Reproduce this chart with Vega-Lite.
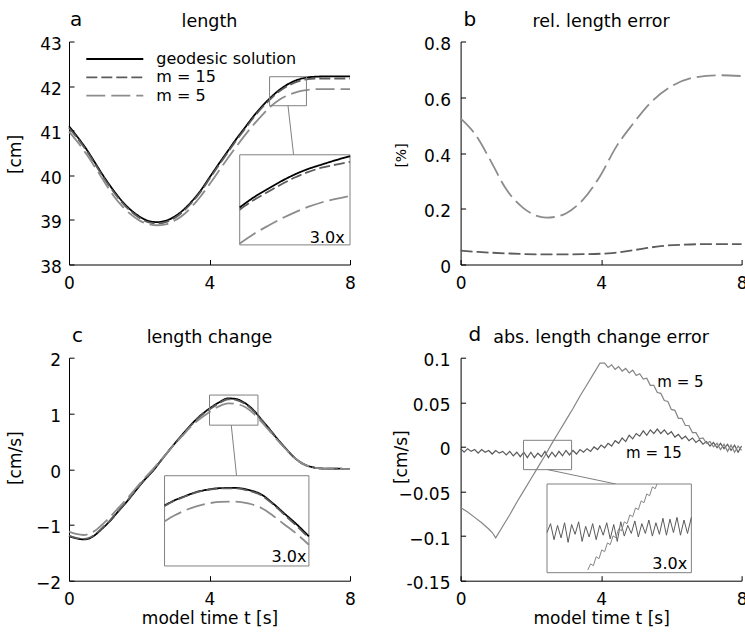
{
"$schema": "https://vega.github.io/schema/vega-lite/v6.json",
"background": "white",
"padding": {"left": 6, "top": 9.5, "right": 0, "bottom": 0},
"columns": 2,
"spacing": {"row": 93.2, "column": 110.6},
"bounds": "flush",
"resolve": {"scale": {"color": "independent", "strokeDash": "independent"}},
"datasets": {
"a_main": [
{"t":0,"v":41.1,"s":"geodesic solution"},{"t":0.25,"v":40.85,"s":"geodesic solution"},{"t":0.5,"v":40.58,"s":"geodesic solution"},{"t":0.75,"v":40.27,"s":"geodesic solution"},{"t":1,"v":39.96,"s":"geodesic solution"},{"t":1.25,"v":39.68,"s":"geodesic solution"},{"t":1.5,"v":39.43,"s":"geodesic solution"},{"t":1.75,"v":39.23,"s":"geodesic solution"},{"t":2,"v":39.08,"s":"geodesic solution"},{"t":2.25,"v":38.98,"s":"geodesic solution"},{"t":2.5,"v":38.95,"s":"geodesic solution"},{"t":2.75,"v":38.98,"s":"geodesic solution"},{"t":3,"v":39.07,"s":"geodesic solution"},{"t":3.25,"v":39.22,"s":"geodesic solution"},{"t":3.5,"v":39.42,"s":"geodesic solution"},{"t":3.75,"v":39.66,"s":"geodesic solution"},{"t":4,"v":39.95,"s":"geodesic solution"},{"t":4.25,"v":40.24,"s":"geodesic solution"},{"t":4.5,"v":40.52,"s":"geodesic solution"},{"t":4.75,"v":40.8,"s":"geodesic solution"},{"t":5,"v":41.06,"s":"geodesic solution"},{"t":5.25,"v":41.32,"s":"geodesic solution"},{"t":5.5,"v":41.55,"s":"geodesic solution"},{"t":5.75,"v":41.75,"s":"geodesic solution"},{"t":6,"v":41.92,"s":"geodesic solution"},{"t":6.25,"v":42.05,"s":"geodesic solution"},{"t":6.5,"v":42.14,"s":"geodesic solution"},{"t":6.75,"v":42.19,"s":"geodesic solution"},{"t":7,"v":42.21,"s":"geodesic solution"},{"t":7.5,"v":42.22,"s":"geodesic solution"},{"t":8,"v":42.22,"s":"geodesic solution"},
{"t":0,"v":41.06,"s":"m = 15"},{"t":0.25,"v":40.82,"s":"m = 15"},{"t":0.5,"v":40.55,"s":"m = 15"},{"t":0.75,"v":40.24,"s":"m = 15"},{"t":1,"v":39.93,"s":"m = 15"},{"t":1.25,"v":39.65,"s":"m = 15"},{"t":1.5,"v":39.4,"s":"m = 15"},{"t":1.75,"v":39.2,"s":"m = 15"},{"t":2,"v":39.05,"s":"m = 15"},{"t":2.25,"v":38.95,"s":"m = 15"},{"t":2.5,"v":38.92,"s":"m = 15"},{"t":2.75,"v":38.95,"s":"m = 15"},{"t":3,"v":39.04,"s":"m = 15"},{"t":3.25,"v":39.19,"s":"m = 15"},{"t":3.5,"v":39.39,"s":"m = 15"},{"t":3.75,"v":39.63,"s":"m = 15"},{"t":4,"v":39.92,"s":"m = 15"},{"t":4.25,"v":40.21,"s":"m = 15"},{"t":4.5,"v":40.49,"s":"m = 15"},{"t":4.75,"v":40.77,"s":"m = 15"},{"t":5,"v":41.03,"s":"m = 15"},{"t":5.25,"v":41.29,"s":"m = 15"},{"t":5.5,"v":41.52,"s":"m = 15"},{"t":5.75,"v":41.72,"s":"m = 15"},{"t":6,"v":41.89,"s":"m = 15"},{"t":6.25,"v":42.01,"s":"m = 15"},{"t":6.5,"v":42.1,"s":"m = 15"},{"t":6.75,"v":42.15,"s":"m = 15"},{"t":7,"v":42.17,"s":"m = 15"},{"t":7.5,"v":42.17,"s":"m = 15"},{"t":8,"v":42.17,"s":"m = 15"},
{"t":0,"v":40.98,"s":"m = 5"},{"t":0.25,"v":40.74,"s":"m = 5"},{"t":0.5,"v":40.47,"s":"m = 5"},{"t":0.75,"v":40.17,"s":"m = 5"},{"t":1,"v":39.86,"s":"m = 5"},{"t":1.25,"v":39.56,"s":"m = 5"},{"t":1.5,"v":39.32,"s":"m = 5"},{"t":1.75,"v":39.13,"s":"m = 5"},{"t":2,"v":38.99,"s":"m = 5"},{"t":2.25,"v":38.91,"s":"m = 5"},{"t":2.5,"v":38.88,"s":"m = 5"},{"t":2.75,"v":38.9,"s":"m = 5"},{"t":3,"v":38.98,"s":"m = 5"},{"t":3.25,"v":39.11,"s":"m = 5"},{"t":3.5,"v":39.3,"s":"m = 5"},{"t":3.75,"v":39.53,"s":"m = 5"},{"t":4,"v":39.8,"s":"m = 5"},{"t":4.25,"v":40.08,"s":"m = 5"},{"t":4.5,"v":40.36,"s":"m = 5"},{"t":4.75,"v":40.63,"s":"m = 5"},{"t":5,"v":40.89,"s":"m = 5"},{"t":5.25,"v":41.13,"s":"m = 5"},{"t":5.5,"v":41.35,"s":"m = 5"},{"t":5.75,"v":41.55,"s":"m = 5"},{"t":6,"v":41.7,"s":"m = 5"},{"t":6.25,"v":41.8,"s":"m = 5"},{"t":6.5,"v":41.87,"s":"m = 5"},{"t":6.75,"v":41.91,"s":"m = 5"},{"t":7,"v":41.93,"s":"m = 5"},{"t":7.5,"v":41.93,"s":"m = 5"},{"t":8,"v":41.93,"s":"m = 5"}
],
"a_inset": [
{"t":4.86,"v":39.28,"s":"geodesic solution"},{"t":5.25,"v":39.5,"s":"geodesic solution"},{"t":5.67,"v":39.7,"s":"geodesic solution"},{"t":6.05,"v":39.87,"s":"geodesic solution"},{"t":6.43,"v":40.02,"s":"geodesic solution"},{"t":6.8,"v":40.14,"s":"geodesic solution"},{"t":7.19,"v":40.24,"s":"geodesic solution"},{"t":7.6,"v":40.34,"s":"geodesic solution"},{"t":8,"v":40.43,"s":"geodesic solution"},
{"t":4.86,"v":39.23,"s":"m = 15"},{"t":5.25,"v":39.44,"s":"m = 15"},{"t":5.67,"v":39.63,"s":"m = 15"},{"t":6.05,"v":39.8,"s":"m = 15"},{"t":6.43,"v":39.95,"s":"m = 15"},{"t":6.8,"v":40.07,"s":"m = 15"},{"t":7.19,"v":40.17,"s":"m = 15"},{"t":7.6,"v":40.24,"s":"m = 15"},{"t":8,"v":40.3,"s":"m = 15"},
{"t":4.86,"v":38.47,"s":"m = 5"},{"t":5.25,"v":38.68,"s":"m = 5"},{"t":5.67,"v":38.87,"s":"m = 5"},{"t":6.05,"v":39.03,"s":"m = 5"},{"t":6.43,"v":39.17,"s":"m = 5"},{"t":6.8,"v":39.29,"s":"m = 5"},{"t":7.19,"v":39.39,"s":"m = 5"},{"t":7.6,"v":39.47,"s":"m = 5"},{"t":8,"v":39.54,"s":"m = 5"}
],
"b_main": [
{"t":0,"v":0.524,"s":"m = 5"},{"t":0.455,"v":0.46,"s":"m = 5"},{"t":0.833,"v":0.377,"s":"m = 5"},{"t":1.31,"v":0.268,"s":"m = 5"},{"t":1.78,"v":0.203,"s":"m = 5"},{"t":2.1,"v":0.178,"s":"m = 5"},{"t":2.44,"v":0.168,"s":"m = 5"},{"t":2.75,"v":0.172,"s":"m = 5"},{"t":3.01,"v":0.184,"s":"m = 5"},{"t":3.48,"v":0.232,"s":"m = 5"},{"t":3.96,"v":0.315,"s":"m = 5"},{"t":4.43,"v":0.422,"s":"m = 5"},{"t":4.91,"v":0.505,"s":"m = 5"},{"t":5.38,"v":0.577,"s":"m = 5"},{"t":6.04,"v":0.642,"s":"m = 5"},{"t":6.7,"v":0.672,"s":"m = 5"},{"t":7.37,"v":0.679,"s":"m = 5"},{"t":8,"v":0.676,"s":"m = 5"},
{"t":0,"v":0.05,"s":"m = 15"},{"t":0.5,"v":0.045,"s":"m = 15"},{"t":1.3,"v":0.04,"s":"m = 15"},{"t":2.4,"v":0.036,"s":"m = 15"},{"t":3.5,"v":0.037,"s":"m = 15"},{"t":4.2,"v":0.04,"s":"m = 15"},{"t":4.7,"v":0.047,"s":"m = 15"},{"t":5.2,"v":0.057,"s":"m = 15"},{"t":5.7,"v":0.066,"s":"m = 15"},{"t":6.3,"v":0.071,"s":"m = 15"},{"t":7,"v":0.073,"s":"m = 15"},{"t":8,"v":0.073,"s":"m = 15"}
],
"c_main": [
{"t":0,"v":-1.2,"s":"geodesic solution"},{"t":0.2,"v":-1.24,"s":"geodesic solution"},{"t":0.44,"v":-1.26,"s":"geodesic solution"},{"t":0.7,"v":-1.2,"s":"geodesic solution"},{"t":0.92,"v":-1.08,"s":"geodesic solution"},{"t":1.15,"v":-0.94,"s":"geodesic solution"},{"t":1.4,"v":-0.76,"s":"geodesic solution"},{"t":1.65,"v":-0.58,"s":"geodesic solution"},{"t":1.88,"v":-0.4,"s":"geodesic solution"},{"t":2.14,"v":-0.2,"s":"geodesic solution"},{"t":2.39,"v":-0.03,"s":"geodesic solution"},{"t":2.65,"v":0.18,"s":"geodesic solution"},{"t":2.91,"v":0.385,"s":"geodesic solution"},{"t":3.2,"v":0.6,"s":"geodesic solution"},{"t":3.48,"v":0.8,"s":"geodesic solution"},{"t":3.72,"v":0.95,"s":"geodesic solution"},{"t":3.96,"v":1.07,"s":"geodesic solution"},{"t":4.25,"v":1.19,"s":"geodesic solution"},{"t":4.53,"v":1.27,"s":"geodesic solution"},{"t":4.75,"v":1.26,"s":"geodesic solution"},{"t":5,"v":1.19,"s":"geodesic solution"},{"t":5.25,"v":1.06,"s":"geodesic solution"},{"t":5.48,"v":0.89,"s":"geodesic solution"},{"t":5.72,"v":0.71,"s":"geodesic solution"},{"t":5.95,"v":0.53,"s":"geodesic solution"},{"t":6.2,"v":0.35,"s":"geodesic solution"},{"t":6.43,"v":0.2,"s":"geodesic solution"},{"t":6.65,"v":0.1,"s":"geodesic solution"},{"t":6.9,"v":0.04,"s":"geodesic solution"},{"t":7.15,"v":0.015,"s":"geodesic solution"},{"t":7.38,"v":0.01,"s":"geodesic solution"},{"t":7.65,"v":0.012,"s":"geodesic solution"},{"t":7.95,"v":0,"s":"geodesic solution"},{"t":8,"v":0,"s":"geodesic solution"},
{"t":0,"v":-1.19,"s":"m = 15"},{"t":0.2,"v":-1.23,"s":"m = 15"},{"t":0.44,"v":-1.25,"s":"m = 15"},{"t":0.7,"v":-1.19,"s":"m = 15"},{"t":0.92,"v":-1.07,"s":"m = 15"},{"t":1.15,"v":-0.93,"s":"m = 15"},{"t":1.4,"v":-0.75,"s":"m = 15"},{"t":1.65,"v":-0.57,"s":"m = 15"},{"t":1.88,"v":-0.39,"s":"m = 15"},{"t":2.14,"v":-0.19,"s":"m = 15"},{"t":2.39,"v":-0.02,"s":"m = 15"},{"t":2.65,"v":0.18,"s":"m = 15"},{"t":2.91,"v":0.38,"s":"m = 15"},{"t":3.2,"v":0.59,"s":"m = 15"},{"t":3.48,"v":0.79,"s":"m = 15"},{"t":3.72,"v":0.94,"s":"m = 15"},{"t":3.96,"v":1.055,"s":"m = 15"},{"t":4.25,"v":1.175,"s":"m = 15"},{"t":4.53,"v":1.255,"s":"m = 15"},{"t":4.75,"v":1.245,"s":"m = 15"},{"t":5,"v":1.175,"s":"m = 15"},{"t":5.25,"v":1.045,"s":"m = 15"},{"t":5.48,"v":0.875,"s":"m = 15"},{"t":5.72,"v":0.7,"s":"m = 15"},{"t":5.95,"v":0.52,"s":"m = 15"},{"t":6.2,"v":0.345,"s":"m = 15"},{"t":6.43,"v":0.2,"s":"m = 15"},{"t":6.65,"v":0.1,"s":"m = 15"},{"t":6.9,"v":0.04,"s":"m = 15"},{"t":7.15,"v":0.015,"s":"m = 15"},{"t":7.38,"v":0.01,"s":"m = 15"},{"t":7.65,"v":0.012,"s":"m = 15"},{"t":7.95,"v":0,"s":"m = 15"},{"t":8,"v":0,"s":"m = 15"},
{"t":0,"v":-1.12,"s":"m = 5"},{"t":0.2,"v":-1.16,"s":"m = 5"},{"t":0.42,"v":-1.18,"s":"m = 5"},{"t":0.7,"v":-1.12,"s":"m = 5"},{"t":0.92,"v":-1.01,"s":"m = 5"},{"t":1.15,"v":-0.87,"s":"m = 5"},{"t":1.4,"v":-0.7,"s":"m = 5"},{"t":1.65,"v":-0.53,"s":"m = 5"},{"t":1.88,"v":-0.36,"s":"m = 5"},{"t":2.14,"v":-0.17,"s":"m = 5"},{"t":2.39,"v":0,"s":"m = 5"},{"t":2.65,"v":0.19,"s":"m = 5"},{"t":2.91,"v":0.38,"s":"m = 5"},{"t":3.2,"v":0.58,"s":"m = 5"},{"t":3.48,"v":0.77,"s":"m = 5"},{"t":3.72,"v":0.9,"s":"m = 5"},{"t":3.96,"v":1.01,"s":"m = 5"},{"t":4.25,"v":1.12,"s":"m = 5"},{"t":4.53,"v":1.18,"s":"m = 5"},{"t":4.75,"v":1.17,"s":"m = 5"},{"t":5,"v":1.12,"s":"m = 5"},{"t":5.25,"v":1,"s":"m = 5"},{"t":5.48,"v":0.85,"s":"m = 5"},{"t":5.72,"v":0.68,"s":"m = 5"},{"t":5.95,"v":0.51,"s":"m = 5"},{"t":6.2,"v":0.34,"s":"m = 5"},{"t":6.43,"v":0.2,"s":"m = 5"},{"t":6.65,"v":0.1,"s":"m = 5"},{"t":6.9,"v":0.04,"s":"m = 5"},{"t":7.15,"v":0.015,"s":"m = 5"},{"t":7.38,"v":0.01,"s":"m = 5"},{"t":7.65,"v":0.012,"s":"m = 5"},{"t":7.95,"v":0,"s":"m = 5"},{"t":8,"v":0,"s":"m = 5"}
],
"c_inset": [
{"t":2.72,"v":-0.653,"s":"geodesic solution"},{"t":3,"v":-0.56,"s":"geodesic solution"},{"t":3.3,"v":-0.485,"s":"geodesic solution"},{"t":3.6,"v":-0.415,"s":"geodesic solution"},{"t":3.96,"v":-0.365,"s":"geodesic solution"},{"t":4.3,"v":-0.34,"s":"geodesic solution"},{"t":4.72,"v":-0.335,"s":"geodesic solution"},{"t":5.1,"v":-0.37,"s":"geodesic solution"},{"t":5.48,"v":-0.455,"s":"geodesic solution"},{"t":5.8,"v":-0.61,"s":"geodesic solution"},{"t":6.14,"v":-0.8,"s":"geodesic solution"},{"t":6.5,"v":-1,"s":"geodesic solution"},{"t":6.83,"v":-1.205,"s":"geodesic solution"},
{"t":2.72,"v":-0.66,"s":"m = 15"},{"t":3,"v":-0.565,"s":"m = 15"},{"t":3.3,"v":-0.49,"s":"m = 15"},{"t":3.6,"v":-0.42,"s":"m = 15"},{"t":3.96,"v":-0.37,"s":"m = 15"},{"t":4.3,"v":-0.345,"s":"m = 15"},{"t":4.72,"v":-0.345,"s":"m = 15"},{"t":5.1,"v":-0.385,"s":"m = 15"},{"t":5.48,"v":-0.47,"s":"m = 15"},{"t":5.8,"v":-0.625,"s":"m = 15"},{"t":6.14,"v":-0.82,"s":"m = 15"},{"t":6.5,"v":-1.03,"s":"m = 15"},{"t":6.83,"v":-1.23,"s":"m = 15"},
{"t":2.72,"v":-0.935,"s":"m = 5"},{"t":3,"v":-0.83,"s":"m = 5"},{"t":3.3,"v":-0.74,"s":"m = 5"},{"t":3.6,"v":-0.67,"s":"m = 5"},{"t":3.96,"v":-0.615,"s":"m = 5"},{"t":4.3,"v":-0.585,"s":"m = 5"},{"t":4.72,"v":-0.58,"s":"m = 5"},{"t":5.1,"v":-0.615,"s":"m = 5"},{"t":5.48,"v":-0.695,"s":"m = 5"},{"t":5.8,"v":-0.83,"s":"m = 5"},{"t":6.14,"v":-0.995,"s":"m = 5"},{"t":6.5,"v":-1.17,"s":"m = 5"},{"t":6.83,"v":-1.355,"s":"m = 5"}
],
"d_main": [
{"t":0,"v":-0.002,"s":"m = 15"},{"t":0.1,"v":-0.006,"s":"m = 15"},{"t":0.2,"v":-0.002,"s":"m = 15"},{"t":0.3,"v":-0.005,"s":"m = 15"},{"t":0.4,"v":-0.003,"s":"m = 15"},{"t":0.5,"v":-0.007,"s":"m = 15"},{"t":0.6,"v":-0.003,"s":"m = 15"},{"t":0.7,"v":-0.006,"s":"m = 15"},{"t":0.8,"v":-0.004,"s":"m = 15"},{"t":0.9,"v":-0.008,"s":"m = 15"},{"t":1,"v":-0.004,"s":"m = 15"},{"t":1.1,"v":-0.007,"s":"m = 15"},{"t":1.2,"v":-0.005,"s":"m = 15"},{"t":1.3,"v":-0.009,"s":"m = 15"},{"t":1.4,"v":-0.005,"s":"m = 15"},{"t":1.5,"v":-0.01,"s":"m = 15"},{"t":1.6,"v":-0.006,"s":"m = 15"},{"t":1.7,"v":-0.011,"s":"m = 15"},{"t":1.8,"v":-0.006,"s":"m = 15"},{"t":1.9,"v":-0.012,"s":"m = 15"},{"t":2,"v":-0.006,"s":"m = 15"},{"t":2.1,"v":-0.012,"s":"m = 15"},{"t":2.2,"v":-0.007,"s":"m = 15"},{"t":2.3,"v":-0.011,"s":"m = 15"},{"t":2.4,"v":-0.005,"s":"m = 15"},{"t":2.5,"v":-0.012,"s":"m = 15"},{"t":2.6,"v":-0.006,"s":"m = 15"},{"t":2.7,"v":-0.011,"s":"m = 15"},{"t":2.8,"v":-0.005,"s":"m = 15"},{"t":2.9,"v":-0.01,"s":"m = 15"},{"t":3,"v":-0.004,"s":"m = 15"},{"t":3.1,"v":-0.009,"s":"m = 15"},{"t":3.2,"v":-0.004,"s":"m = 15"},{"t":3.3,"v":-0.008,"s":"m = 15"},{"t":3.4,"v":-0.003,"s":"m = 15"},{"t":3.5,"v":-0.006,"s":"m = 15"},{"t":3.6,"v":-0.002,"s":"m = 15"},{"t":3.7,"v":-0.005,"s":"m = 15"},{"t":3.8,"v":0,"s":"m = 15"},{"t":3.9,"v":-0.003,"s":"m = 15"},{"t":4,"v":0.002,"s":"m = 15"},{"t":4.1,"v":-0.001,"s":"m = 15"},{"t":4.2,"v":0.004,"s":"m = 15"},{"t":4.3,"v":0.001,"s":"m = 15"},{"t":4.4,"v":0.007,"s":"m = 15"},{"t":4.5,"v":0.004,"s":"m = 15"},{"t":4.6,"v":0.01,"s":"m = 15"},{"t":4.7,"v":0.006,"s":"m = 15"},{"t":4.8,"v":0.013,"s":"m = 15"},{"t":4.9,"v":0.009,"s":"m = 15"},{"t":5,"v":0.015,"s":"m = 15"},{"t":5.1,"v":0.012,"s":"m = 15"},{"t":5.2,"v":0.018,"s":"m = 15"},{"t":5.3,"v":0.013,"s":"m = 15"},{"t":5.4,"v":0.019,"s":"m = 15"},{"t":5.5,"v":0.015,"s":"m = 15"},{"t":5.6,"v":0.02,"s":"m = 15"},{"t":5.7,"v":0.015,"s":"m = 15"},{"t":5.8,"v":0.019,"s":"m = 15"},{"t":5.9,"v":0.014,"s":"m = 15"},{"t":6,"v":0.017,"s":"m = 15"},{"t":6.1,"v":0.011,"s":"m = 15"},{"t":6.2,"v":0.014,"s":"m = 15"},{"t":6.3,"v":0.009,"s":"m = 15"},{"t":6.4,"v":0.012,"s":"m = 15"},{"t":6.5,"v":0.007,"s":"m = 15"},{"t":6.6,"v":0.01,"s":"m = 15"},{"t":6.7,"v":0.005,"s":"m = 15"},{"t":6.8,"v":0.008,"s":"m = 15"},{"t":6.9,"v":0.003,"s":"m = 15"},{"t":7,"v":0.006,"s":"m = 15"},{"t":7.1,"v":0.001,"s":"m = 15"},{"t":7.2,"v":0.005,"s":"m = 15"},{"t":7.3,"v":-0.001,"s":"m = 15"},{"t":7.4,"v":0.004,"s":"m = 15"},{"t":7.5,"v":-0.002,"s":"m = 15"},{"t":7.6,"v":0.003,"s":"m = 15"},{"t":7.7,"v":-0.004,"s":"m = 15"},{"t":7.8,"v":0.002,"s":"m = 15"},{"t":7.9,"v":-0.006,"s":"m = 15"},{"t":8,"v":0.001,"s":"m = 15"},
{"t":0,"v":-0.068,"s":"m = 5"},{"t":0.2,"v":-0.073,"s":"m = 5"},{"t":0.4,"v":-0.079,"s":"m = 5"},{"t":0.6,"v":-0.085,"s":"m = 5"},{"t":0.8,"v":-0.092,"s":"m = 5"},{"t":0.9,"v":-0.096,"s":"m = 5"},{"t":1,"v":-0.102,"s":"m = 5"},{"t":1.2,"v":-0.089,"s":"m = 5"},{"t":1.4,"v":-0.076,"s":"m = 5"},{"t":1.6,"v":-0.062,"s":"m = 5"},{"t":1.8,"v":-0.049,"s":"m = 5"},{"t":2,"v":-0.036,"s":"m = 5"},{"t":2.2,"v":-0.023,"s":"m = 5"},{"t":2.4,"v":-0.01,"s":"m = 5"},{"t":2.6,"v":0.004,"s":"m = 5"},{"t":2.8,"v":0.017,"s":"m = 5"},{"t":3,"v":0.03,"s":"m = 5"},{"t":3.2,"v":0.043,"s":"m = 5"},{"t":3.4,"v":0.057,"s":"m = 5"},{"t":3.6,"v":0.07,"s":"m = 5"},{"t":3.8,"v":0.083,"s":"m = 5"},{"t":3.97,"v":0.094,"s":"m = 5"},{"t":4.1,"v":0.094,"s":"m = 5"},{"t":4.2,"v":0.089,"s":"m = 5"},{"t":4.3,"v":0.092,"s":"m = 5"},{"t":4.4,"v":0.087,"s":"m = 5"},{"t":4.5,"v":0.09,"s":"m = 5"},{"t":4.6,"v":0.085,"s":"m = 5"},{"t":4.7,"v":0.088,"s":"m = 5"},{"t":4.8,"v":0.083,"s":"m = 5"},{"t":4.9,"v":0.086,"s":"m = 5"},{"t":5,"v":0.08,"s":"m = 5"},{"t":5.1,"v":0.082,"s":"m = 5"},{"t":5.2,"v":0.076,"s":"m = 5"},{"t":5.3,"v":0.077,"s":"m = 5"},{"t":5.4,"v":0.069,"s":"m = 5"},{"t":5.5,"v":0.069,"s":"m = 5"},{"t":5.6,"v":0.061,"s":"m = 5"},{"t":5.7,"v":0.06,"s":"m = 5"},{"t":5.8,"v":0.052,"s":"m = 5"},{"t":5.9,"v":0.051,"s":"m = 5"},{"t":6,"v":0.042,"s":"m = 5"},{"t":6.1,"v":0.041,"s":"m = 5"},{"t":6.2,"v":0.032,"s":"m = 5"},{"t":6.3,"v":0.032,"s":"m = 5"},{"t":6.4,"v":0.024,"s":"m = 5"},{"t":6.5,"v":0.024,"s":"m = 5"},{"t":6.6,"v":0.016,"s":"m = 5"},{"t":6.7,"v":0.016,"s":"m = 5"},{"t":6.8,"v":0.009,"s":"m = 5"},{"t":6.9,"v":0.01,"s":"m = 5"},{"t":7,"v":0.004,"s":"m = 5"},{"t":7.1,"v":0.006,"s":"m = 5"},{"t":7.2,"v":0,"s":"m = 5"},{"t":7.3,"v":0.004,"s":"m = 5"},{"t":7.4,"v":-0.003,"s":"m = 5"},{"t":7.5,"v":0.003,"s":"m = 5"},{"t":7.6,"v":-0.005,"s":"m = 5"},{"t":7.7,"v":0.002,"s":"m = 5"},{"t":7.8,"v":-0.006,"s":"m = 5"},{"t":7.9,"v":0.001,"s":"m = 5"},{"t":8,"v":-0.004,"s":"m = 5"}
],
"d_inset": [
{"t":2.46,"v":-0.096,"s":"m = 15"},{"t":2.56,"v":-0.086,"s":"m = 15"},{"t":2.66,"v":-0.104,"s":"m = 15"},{"t":2.76,"v":-0.088,"s":"m = 15"},{"t":2.86,"v":-0.102,"s":"m = 15"},{"t":2.96,"v":-0.085,"s":"m = 15"},{"t":3.06,"v":-0.107,"s":"m = 15"},{"t":3.16,"v":-0.087,"s":"m = 15"},{"t":3.26,"v":-0.098,"s":"m = 15"},{"t":3.36,"v":-0.084,"s":"m = 15"},{"t":3.46,"v":-0.106,"s":"m = 15"},{"t":3.56,"v":-0.089,"s":"m = 15"},{"t":3.66,"v":-0.101,"s":"m = 15"},{"t":3.76,"v":-0.086,"s":"m = 15"},{"t":3.86,"v":-0.104,"s":"m = 15"},{"t":3.96,"v":-0.088,"s":"m = 15"},{"t":4.06,"v":-0.099,"s":"m = 15"},{"t":4.16,"v":-0.085,"s":"m = 15"},{"t":4.26,"v":-0.103,"s":"m = 15"},{"t":4.36,"v":-0.087,"s":"m = 15"},{"t":4.46,"v":-0.106,"s":"m = 15"},{"t":4.56,"v":-0.084,"s":"m = 15"},{"t":4.66,"v":-0.1,"s":"m = 15"},{"t":4.76,"v":-0.088,"s":"m = 15"},{"t":4.86,"v":-0.097,"s":"m = 15"},{"t":4.96,"v":-0.083,"s":"m = 15"},{"t":5.06,"v":-0.101,"s":"m = 15"},{"t":5.16,"v":-0.086,"s":"m = 15"},{"t":5.26,"v":-0.097,"s":"m = 15"},{"t":5.36,"v":-0.082,"s":"m = 15"},{"t":5.46,"v":-0.1,"s":"m = 15"},{"t":5.56,"v":-0.085,"s":"m = 15"},{"t":5.66,"v":-0.098,"s":"m = 15"},{"t":5.76,"v":-0.08,"s":"m = 15"},{"t":5.86,"v":-0.099,"s":"m = 15"},{"t":5.96,"v":-0.081,"s":"m = 15"},{"t":6.06,"v":-0.096,"s":"m = 15"},{"t":6.16,"v":-0.079,"s":"m = 15"},{"t":6.26,"v":-0.099,"s":"m = 15"},{"t":6.36,"v":-0.082,"s":"m = 15"},{"t":6.46,"v":-0.097,"s":"m = 15"},{"t":6.57,"v":-0.079,"s":"m = 15"},
{"t":3.62,"v":-0.138,"s":"m = 5"},{"t":3.7,"v":-0.1311,"s":"m = 5"},{"t":3.78,"v":-0.1332,"s":"m = 5"},{"t":3.86,"v":-0.1232,"s":"m = 5"},{"t":3.94,"v":-0.1253,"s":"m = 5"},{"t":4.02,"v":-0.1154,"s":"m = 5"},{"t":4.1,"v":-0.1175,"s":"m = 5"},{"t":4.18,"v":-0.1076,"s":"m = 5"},{"t":4.26,"v":-0.1096,"s":"m = 5"},{"t":4.34,"v":-0.0997,"s":"m = 5"},{"t":4.42,"v":-0.1018,"s":"m = 5"},{"t":4.5,"v":-0.0919,"s":"m = 5"},{"t":4.58,"v":-0.094,"s":"m = 5"},{"t":4.66,"v":-0.084,"s":"m = 5"},{"t":4.74,"v":-0.0861,"s":"m = 5"},{"t":4.82,"v":-0.0762,"s":"m = 5"},{"t":4.9,"v":-0.0783,"s":"m = 5"},{"t":4.98,"v":-0.0684,"s":"m = 5"},{"t":5.06,"v":-0.0704,"s":"m = 5"},{"t":5.14,"v":-0.0605,"s":"m = 5"},{"t":5.22,"v":-0.0626,"s":"m = 5"},{"t":5.3,"v":-0.0527,"s":"m = 5"},{"t":5.38,"v":-0.0548,"s":"m = 5"},{"t":5.46,"v":-0.0448,"s":"m = 5"},{"t":5.54,"v":-0.0469,"s":"m = 5"},{"t":5.59,"v":-0.0416,"s":"m = 5"}
]
},
"concat": [
{
"width": 281, "height": 223,
"title": {"text": "length", "offset": -21},
"encoding": {
"x": {"field": "t", "type": "quantitative", "scale": {"domain": [0, 8], "nice": false, "zero": false}, "axis": {"values": [0, 4, 8], "title": null, "labelPadding": 15.5, "labelFlush": false}},
"y": {"field": "v", "type": "quantitative", "scale": {"domain": [38, 43], "nice": false, "zero": false}, "axis": {"values": [38, 39, 40, 41, 42, 43], "title": "[cm]", "titleX": -48.2, "titleY": 112.5, "titleBaseline": "alphabetic", "labelPadding": 12.7, "labelOffset": 3}}
},
"layer": [
{"data": {"name": "a_main"}, "mark": {"type": "line", "interpolate": "monotone", "strokeWidth": 1.8},
 "encoding": {
  "color": {"field": "s", "type": "nominal", "scale": {"domain": ["geodesic solution", "m = 15", "m = 5"], "range": ["#000000", "#5c5c5c", "#8c8c8c"]},
   "legend": {"title": null, "orient": "none", "legendX": 16.3, "legendY": 9.5, "symbolType": "stroke", "symbolSize": 3249, "symbolStrokeWidth": 1.8, "clipHeight": 16, "rowPadding": 2.3, "labelOffset": 12, "labelFontSize": 16, "labelFont": "DejaVu Sans", "labelColor": "#000000", "padding": 0}},
  "strokeDash": {"field": "s", "type": "nominal", "scale": {"domain": ["geodesic solution", "m = 15", "m = 5"], "range": [[1, 0], [11, 4], [19, 6]]}}
 }},
{"data": {"values": [{"t": 5.71, "t2": 6.76, "v": 41.56, "v2": 42.21}]}, "mark": {"type": "rect", "fillOpacity": 0, "stroke": "#808080", "strokeWidth": 1}, "encoding": {"x2": {"field": "t2"}, "y2": {"field": "v2"}}},
{"data": {"values": [{"t": 6.235, "t2": 6.394, "v": 41.56, "v2": 40.46}]}, "mark": {"type": "rule", "color": "#808080", "strokeWidth": 1}, "encoding": {"x2": {"field": "t2"}, "y2": {"field": "v2"}}},
{"data": {"values": [{"t": 4.86, "t2": 8, "v": 38.44, "v2": 40.46}]}, "mark": {"type": "rect", "fill": "white", "stroke": "#808080", "strokeWidth": 1}, "encoding": {"x2": {"field": "t2"}, "y2": {"field": "v2"}}},
{"data": {"name": "a_inset"}, "mark": {"type": "line", "interpolate": "monotone", "strokeWidth": 1.8}, "encoding": {"color": {"field": "s", "type": "nominal"}, "strokeDash": {"field": "s", "type": "nominal"}}},
{"data": {"values": [{"t": 7.85, "v": 38.49, "label": "3.0x"}]}, "mark": {"type": "text", "align": "right", "baseline": "alphabetic", "fontSize": 16, "color": "#000000"}, "encoding": {"text": {"field": "label"}}},
{"data": {"values": [{"t": 0, "v": 43, "label": "a"}]}, "mark": {"type": "text", "align": "left", "baseline": "alphabetic", "fontSize": 20, "dy": -16, "dx": 1, "color": "#000000"}, "encoding": {"text": {"field": "label"}}}
]
},
{
"width": 281, "height": 223,
"title": {"text": "rel. length error", "offset": -21},
"encoding": {
"x": {"field": "t", "type": "quantitative", "scale": {"domain": [0, 8], "nice": false, "zero": false}, "axis": {"values": [0, 4, 8], "title": null, "labelPadding": 15.5, "labelFlush": false}},
"y": {"field": "v", "type": "quantitative", "scale": {"domain": [0, 0.8], "nice": false, "zero": false}, "axis": {"values": [0, 0.2, 0.4, 0.6, 0.8], "format": "~g", "title": "[%]", "titleFontSize": 14, "titleX": -55.5, "titleY": 113.5, "titleBaseline": "alphabetic", "labelPadding": 15, "labelOffset": 3}}
},
"layer": [
{"data": {"name": "b_main"}, "mark": {"type": "line", "interpolate": "monotone", "strokeWidth": 1.8},
 "encoding": {
  "color": {"field": "s", "type": "nominal", "scale": {"domain": ["m = 15", "m = 5"], "range": ["#5c5c5c", "#8c8c8c"]}, "legend": null},
  "strokeDash": {"field": "s", "type": "nominal", "scale": {"domain": ["m = 15", "m = 5"], "range": [[12, 4], [19, 6]]}, "legend": null}
 }},
{"data": {"values": [{"t": 0, "v": 0.8, "label": "b"}]}, "mark": {"type": "text", "align": "left", "baseline": "alphabetic", "fontSize": 20, "dy": -16, "dx": 3, "color": "#000000"}, "encoding": {"text": {"field": "label"}}}
]
},
{
"width": 281, "height": 223,
"title": {"text": "length change", "offset": -21},
"encoding": {
"x": {"field": "t", "type": "quantitative", "scale": {"domain": [0, 8], "nice": false, "zero": false}, "axis": {"values": [0, 4, 8], "title": "model time t [s]", "titleY": 42.5, "titleBaseline": "alphabetic", "labelPadding": 16, "labelFlush": false}},
"y": {"field": "v", "type": "quantitative", "scale": {"domain": [-2, 2], "nice": false, "zero": false}, "axis": {"values": [-2, -1, 0, 1, 2], "format": "~g", "title": "[cm/s]", "titleX": -48.2, "titleY": 100, "titleBaseline": "alphabetic", "labelPadding": 13.4, "labelOffset": 3}}
},
"layer": [
{"data": {"name": "c_main"}, "mark": {"type": "line", "interpolate": "monotone", "strokeWidth": 1.8},
 "encoding": {
  "color": {"field": "s", "type": "nominal", "scale": {"domain": ["geodesic solution", "m = 15", "m = 5"], "range": ["#000000", "#5c5c5c", "#8c8c8c"]}, "legend": null},
  "strokeDash": {"field": "s", "type": "nominal", "scale": {"domain": ["geodesic solution", "m = 15", "m = 5"], "range": [[1, 0], [11, 4], [19, 6]]}, "legend": null}
 }},
{"data": {"values": [{"t": 4.0, "t2": 5.38, "v": 0.79, "v2": 1.33}]}, "mark": {"type": "rect", "fillOpacity": 0, "stroke": "#808080", "strokeWidth": 1}, "encoding": {"x2": {"field": "t2"}, "y2": {"field": "v2"}}},
{"data": {"values": [{"t": 4.62, "t2": 4.77, "v": 0.79, "v2": -0.117}]}, "mark": {"type": "rule", "color": "#808080", "strokeWidth": 1}, "encoding": {"x2": {"field": "t2"}, "y2": {"field": "v2"}}},
{"data": {"values": [{"t": 2.72, "t2": 6.83, "v": -1.736, "v2": -0.117}]}, "mark": {"type": "rect", "fill": "white", "stroke": "#808080", "strokeWidth": 1}, "encoding": {"x2": {"field": "t2"}, "y2": {"field": "v2"}}},
{"data": {"name": "c_inset"}, "mark": {"type": "line", "interpolate": "monotone", "strokeWidth": 1.8}, "encoding": {"color": {"field": "s", "type": "nominal"}, "strokeDash": {"field": "s", "type": "nominal"}}},
{"data": {"values": [{"t": 6.76, "v": -1.67, "label": "3.0x"}]}, "mark": {"type": "text", "align": "right", "baseline": "alphabetic", "fontSize": 16, "color": "#000000"}, "encoding": {"text": {"field": "label"}}},
{"data": {"values": [{"t": 0, "v": 2, "label": "c"}]}, "mark": {"type": "text", "align": "left", "baseline": "alphabetic", "fontSize": 20, "dy": -16, "dx": 3, "color": "#000000"}, "encoding": {"text": {"field": "label"}}}
]
},
{
"width": 281, "height": 223,
"title": {"text": "abs. length change error", "offset": -22},
"encoding": {
"x": {"field": "t", "type": "quantitative", "scale": {"domain": [0, 8], "nice": false, "zero": false}, "axis": {"values": [0, 4, 8], "title": "model time t [s]", "titleY": 42.5, "titleBaseline": "alphabetic", "labelPadding": 16, "labelFlush": false}},
"y": {"field": "v", "type": "quantitative", "scale": {"domain": [-0.15, 0.1], "nice": false, "zero": false}, "axis": {"values": [-0.15, -0.1, -0.05, 0, 0.05, 0.1], "format": "~g", "labelExpr": "datum.value == -0.15 ? '-0.15' : datum.label", "title": "[cm/s]", "titleX": -54.5, "titleY": 99, "titleBaseline": "alphabetic", "labelPadding": 15.6, "labelOffset": 3}}
},
"layer": [
{"data": {"name": "d_main"}, "mark": {"type": "line", "strokeWidth": 1.2},
 "encoding": {"color": {"field": "s", "type": "nominal", "scale": {"domain": ["m = 15", "m = 5"], "range": ["#5a5a5a", "#858585"]}, "legend": null}}},
{"data": {"values": [{"t": 1.79, "t2": 3.16, "v": -0.0255, "v2": 0.0074}]}, "mark": {"type": "rect", "fillOpacity": 0, "stroke": "#808080", "strokeWidth": 1}, "encoding": {"x2": {"field": "t2"}, "y2": {"field": "v2"}}},
{"data": {"values": [{"t": 2.48, "t2": 4.42, "v": -0.0255, "v2": -0.0416}]}, "mark": {"type": "rule", "color": "#808080", "strokeWidth": 1}, "encoding": {"x2": {"field": "t2"}, "y2": {"field": "v2"}}},
{"data": {"values": [{"t": 2.46, "t2": 6.57, "v": -0.141, "v2": -0.0416}]}, "mark": {"type": "rect", "fill": "white", "stroke": "#808080", "strokeWidth": 1}, "encoding": {"x2": {"field": "t2"}, "y2": {"field": "v2"}}},
{"data": {"name": "d_inset"}, "mark": {"type": "line", "strokeWidth": 1}, "encoding": {"color": {"field": "s", "type": "nominal"}}},
{"data": {"values": [{"t": 6.45, "v": -0.137, "label": "3.0x"}]}, "mark": {"type": "text", "align": "right", "baseline": "alphabetic", "fontSize": 16, "color": "#000000"}, "encoding": {"text": {"field": "label"}}},
{"data": {"values": [{"t": 5.6, "v": 0.0675, "label": "m = 5"}, {"t": 4.71, "v": -0.0121, "label": "m = 15"}]}, "mark": {"type": "text", "align": "left", "baseline": "alphabetic", "fontSize": 15, "color": "#000000"}, "encoding": {"text": {"field": "label"}}},
{"data": {"values": [{"t": 0, "v": 0.1, "label": "d"}]}, "mark": {"type": "text", "align": "left", "baseline": "alphabetic", "fontSize": 20, "dy": -17, "dx": 8, "color": "#000000"}, "encoding": {"text": {"field": "label"}}}
]
}
],
"config": {
"font": "DejaVu Sans",
"view": {"stroke": null},
"axis": {"grid": false, "domainColor": "#000000", "domainWidth": 1, "tickColor": "#000000", "tickWidth": 1, "tickSize": -5, "labelColor": "#000000", "labelFontSize": 17, "labelFont": "DejaVu Sans", "titleColor": "#000000", "titleFontSize": 17, "titleFont": "DejaVu Sans", "titleFontWeight": "normal"},
"title": {"font": "DejaVu Sans", "fontSize": 17.5, "fontWeight": "normal", "color": "#000000", "baseline": "alphabetic", "anchor": "middle"},
"text": {"color": "#000000", "font": "DejaVu Sans"}
}
}
